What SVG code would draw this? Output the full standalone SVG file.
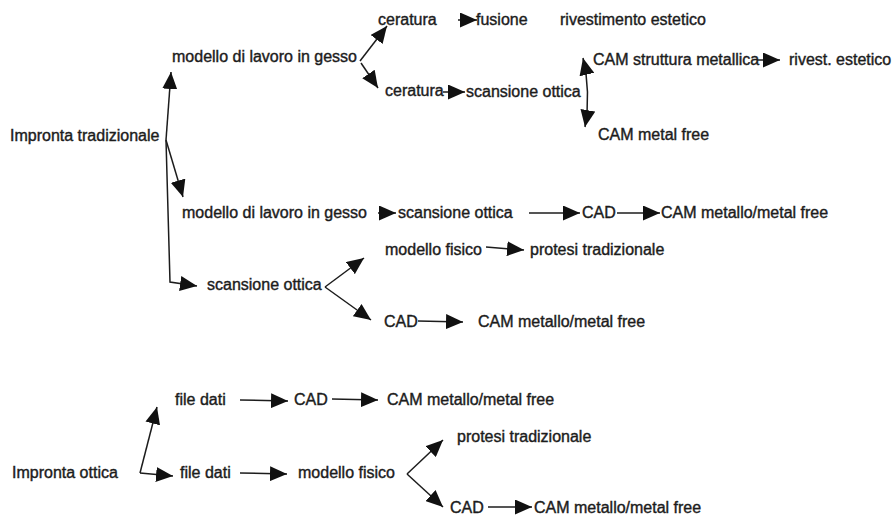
<svg xmlns="http://www.w3.org/2000/svg" width="893" height="518" viewBox="0 0 893 518">
<style>
text{font-family:"Liberation Sans",Arial,sans-serif;font-size:16px;fill:#1c1c1c;stroke:#1c1c1c;stroke-width:0.4;}
.c line,.c polyline,.c path{stroke:#1c1c1c;stroke-width:1.5;fill:none;marker-end:url(#ah);}
.c .dbl{marker-start:url(#ahs);}
</style>
<defs>
<marker id="ah" markerUnits="userSpaceOnUse" markerWidth="17" markerHeight="15" refX="17" refY="7.5" orient="auto"><path d="M0,0 L17,7.5 L0,15 z" fill="#111"/></marker>
<marker id="ahs" markerUnits="userSpaceOnUse" markerWidth="17" markerHeight="15" refX="0" refY="7.5" orient="auto"><path d="M17,0 L0,7.5 L17,15 z" fill="#111"/></marker>
</defs>
<rect width="893" height="518" fill="#fff"/>
<g id="n-impronta-trad"><text x="10" y="141">Impronta tradizionale</text></g>
<g id="n-modello1"><text x="172" y="62">modello di lavoro in gesso</text></g>
<g id="n-ceratura1"><text x="378" y="25">ceratura</text></g>
<g id="n-fusione"><text x="476" y="25">fusione</text></g>
<g id="n-rivestimento"><text x="560" y="25">rivestimento estetico</text></g>
<g id="n-ceratura2"><text x="385" y="96">ceratura</text></g>
<g id="n-scansione1"><text x="466" y="97">scansione ottica</text></g>
<g id="n-cam-struttura"><text x="593" y="65">CAM struttura metallica</text></g>
<g id="n-rivest"><text x="789" y="65">rivest. estetico</text></g>
<g id="n-cam-metalfree"><text x="598" y="140">CAM metal free</text></g>
<g id="n-modello2"><text x="182" y="218">modello di lavoro in gesso</text></g>
<g id="n-scansione2"><text x="398" y="218">scansione ottica</text></g>
<g id="n-cad1"><text x="582" y="218">CAD</text></g>
<g id="n-cam1"><text x="661" y="218">CAM metallo/metal free</text></g>
<g id="n-scansione3"><text x="207" y="290">scansione ottica</text></g>
<g id="n-modello-fisico1"><text x="385" y="255">modello fisico</text></g>
<g id="n-protesi1"><text x="530" y="255">protesi tradizionale</text></g>
<g id="n-cad2"><text x="384" y="327">CAD</text></g>
<g id="n-cam2"><text x="478" y="327">CAM metallo/metal free</text></g>
<g id="n-impronta-ottica"><text x="12" y="478">Impronta ottica</text></g>
<g id="n-filedati1"><text x="175" y="405">file dati</text></g>
<g id="n-cad3"><text x="294" y="405">CAD</text></g>
<g id="n-cam3"><text x="387" y="405">CAM metallo/metal free</text></g>
<g id="n-filedati2"><text x="180" y="478">file dati</text></g>
<g id="n-modello-fisico2"><text x="298" y="478">modello fisico</text></g>
<g id="n-protesi2"><text x="457" y="442">protesi tradizionale</text></g>
<g id="n-cad4"><text x="450" y="513">CAD</text></g>
<g id="n-cam4"><text x="534" y="513">CAM metallo/metal free</text></g>
<g id="connectors" class="c">
<line x1="360" y1="61" x2="387" y2="26"/>
<line x1="361" y1="63" x2="378" y2="88"/>
<line x1="458" y1="20" x2="477" y2="20"/>
<line x1="443" y1="92" x2="465" y2="92"/>
<path class="dbl" d="M583,58 Q591,92 585,127"/>
<line x1="757" y1="60" x2="780" y2="60"/>
<line x1="166" y1="140" x2="171" y2="72"/>
<line x1="166" y1="140" x2="183" y2="197"/>
<polyline points="166,140 170,282 197,286"/>
<line x1="378" y1="213" x2="396" y2="213"/>
<line x1="529" y1="213" x2="580" y2="213"/>
<line x1="617" y1="213" x2="660" y2="213"/>
<line x1="325" y1="287" x2="364" y2="258"/>
<line x1="325" y1="287" x2="371" y2="320"/>
<line x1="486" y1="247" x2="524" y2="250"/>
<line x1="418" y1="321" x2="463" y2="322"/>
<line x1="240" y1="400" x2="288" y2="401"/>
<line x1="332" y1="399" x2="378" y2="400"/>
<line x1="140" y1="473" x2="157" y2="407"/>
<line x1="140" y1="473" x2="173" y2="476"/>
<line x1="240" y1="473" x2="287" y2="474"/>
<line x1="407" y1="474" x2="443" y2="440"/>
<line x1="407" y1="474" x2="443" y2="507"/>
<line x1="488" y1="507" x2="532" y2="507"/>
</g>
</svg>
